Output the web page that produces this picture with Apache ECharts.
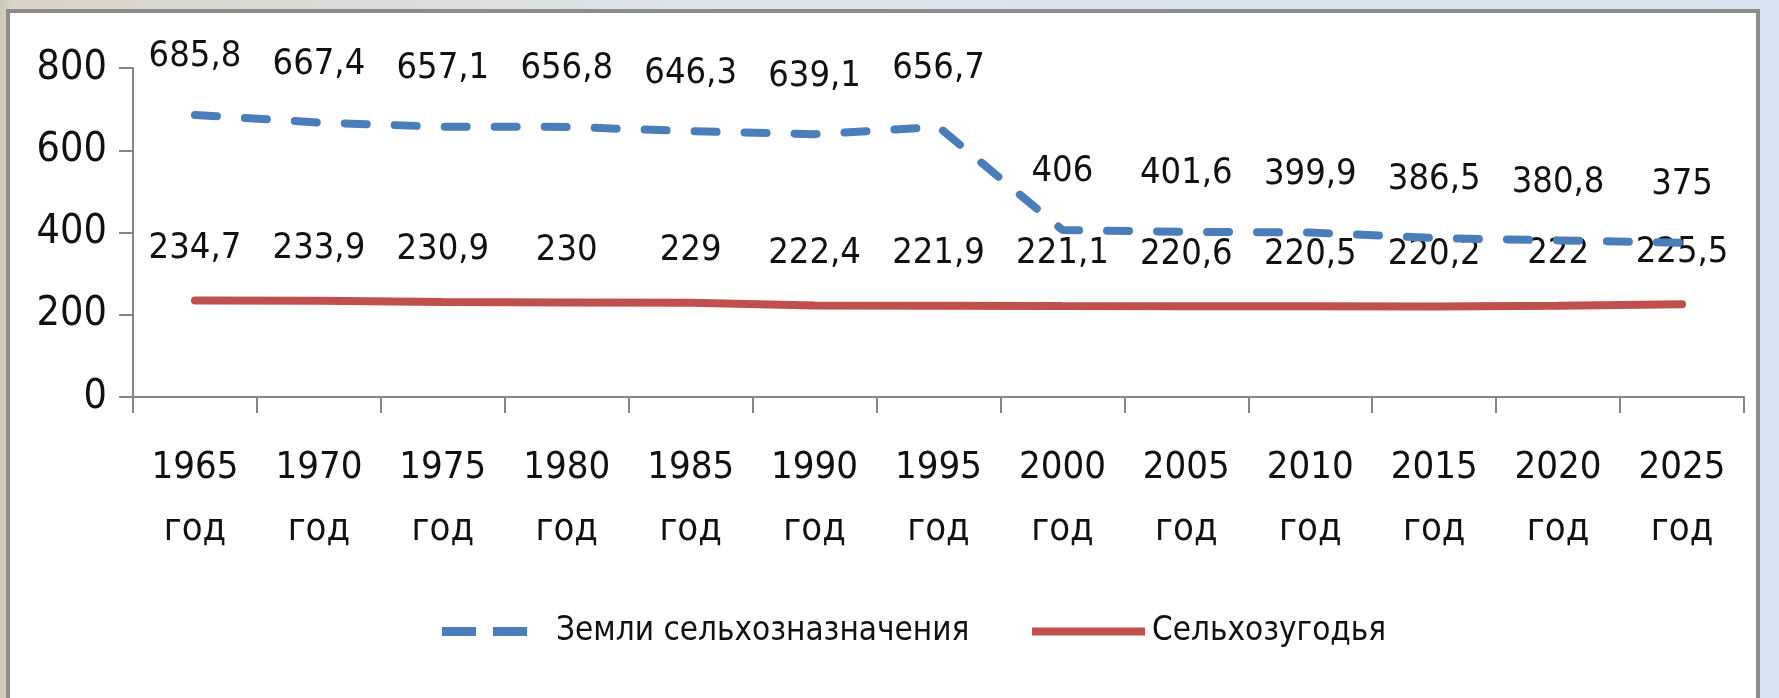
<!DOCTYPE html>
<html>
<head>
<meta charset="utf-8">
<script src="https://cdn.jsdelivr.net/npm/echarts@6/dist/echarts.min.js"></script>
<style>
  html, body { margin: 0; padding: 0; width: 1779px; height: 698px; overflow: hidden; }
  body { background: linear-gradient(90deg, #cfc8b8 0px, #d9d3c6 10px, #dde5ec 40%, #d7e3ee 100%); }
  #frame { position: absolute; left: 6px; top: 9px; width: 1746px; height: 700px;
           border: 4px solid #8c8c8c; background: #ffffff; box-sizing: content-box; }
  #chart { position: absolute; left: 0; top: 0; width: 1779px; height: 698px; }
</style>
</head>
<body>
<div id="frame"></div>
<div id="chart"></div>
<script>
const years = ['1965', '1970', '1975', '1980', '1985', '1990', '1995', '2000', '2005', '2010', '2015', '2020', '2025'];
const yearSuffix = 'год';
const landsAgri = [685.8, 667.4, 657.1, 656.8, 646.3, 639.1, 656.7, 406, 401.6, 399.9, 386.5, 380.8, 375];
const farmland = [234.7, 233.9, 230.9, 230, 229, 222.4, 221.9, 221.1, 220.6, 220.5, 220.2, 222, 225.5];
const seriesNames = ['Земли сельхозназначения', 'Сельхозугодья'];
const yTicks = { min: 0, max: 800, interval: 200 };

const FONT = "'DejaVu Sans Condensed', 'Liberation Sans', sans-serif";
const fmt = v => String(v).replace('.', ',');
const BLUE = '#4a7ebb';
const RED = '#c0504d';

const chart = echarts.init(document.getElementById('chart'), null, { renderer: 'canvas' });
chart.setOption({
  backgroundColor: 'transparent',
  animation: false,
  textStyle: { fontFamily: FONT },
  grid: { left: 133, right: 35, top: 68, bottom: 301, containLabel: false },
  legend: [
    {
      left: 437, top: 610,
      itemWidth: 85, itemHeight: 9,
      icon: 'path://M0,0H34V9H0Z M51,0H85V9H51Z',
      itemStyle: { color: BLUE },
      textStyle: { fontFamily: FONT, fontSize: 33, color: '#111', padding: [0, 0, 0, 24] },
      data: [seriesNames[0]]
    },
    {
      left: 1027, top: 610,
      itemWidth: 113, itemHeight: 8,
      icon: 'path://M0,0H113V8H0Z',
      itemStyle: { color: RED },
      textStyle: { fontFamily: FONT, fontSize: 33, color: '#111', padding: [0, 0, 0, 2] },
      data: [seriesNames[1]]
    }
  ],
  xAxis: {
    type: 'category',
    data: years,
    boundaryGap: true,
    axisLine: { lineStyle: { color: '#868686', width: 2 } },
    axisTick: { show: true, length: 16, alignWithLabel: false, lineStyle: { color: '#868686', width: 2 } },
    axisLabel: {
      interval: 0, margin: 40, color: '#111', fontFamily: FONT, fontSize: 38, lineHeight: 62,
      formatter: v => v + '\n' + yearSuffix
    },
    splitLine: { show: false }
  },
  yAxis: {
    type: 'value',
    min: yTicks.min, max: yTicks.max, interval: yTicks.interval,
    axisLine: { show: true, lineStyle: { color: '#868686', width: 2 } },
    axisTick: { show: true, length: 14, lineStyle: { color: '#868686', width: 2 } },
    axisLabel: { margin: 26, color: '#111', fontFamily: FONT, fontSize: 41 },
    splitLine: { show: false }
  },
  series: [
    {
      name: seriesNames[0], type: 'line', data: landsAgri,
      symbol: 'circle', symbolSize: 0, showSymbol: true, z: 3,
      lineStyle: { color: BLUE, width: 8, type: [22, 28], cap: 'round' },
      itemStyle: { color: BLUE },
      labelLayout: { hideOverlap: false },
      label: { show: true, position: 'top', distance: 40, color: '#111', fontFamily: FONT, fontSize: 36, formatter: p => fmt(p.value) }
    },
    {
      name: seriesNames[1], type: 'line', data: farmland,
      symbol: 'circle', symbolSize: 0, showSymbol: true, z: 2,
      lineStyle: { color: RED, width: 8, cap: 'round' },
      itemStyle: { color: RED },
      labelLayout: { hideOverlap: false },
      label: { show: true, position: 'top', distance: 34, color: '#111', fontFamily: FONT, fontSize: 36, formatter: p => fmt(p.value) }
    }
  ]
});
</script>
</body>
</html>
